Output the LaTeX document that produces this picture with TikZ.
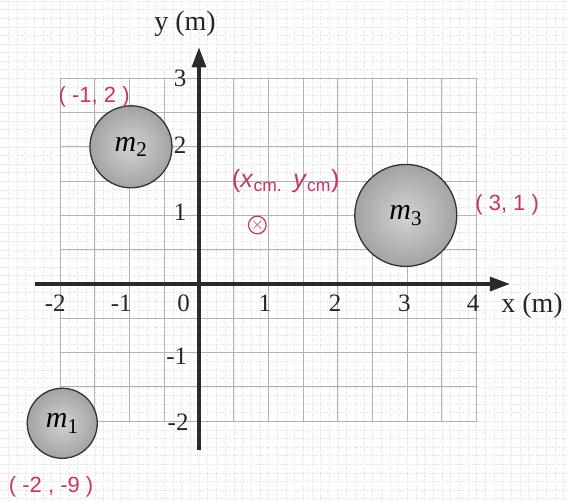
\documentclass[tikz,border=0pt]{standalone}
\usepackage{fontspec}
\setmainfont{Liberation Serif}
\newfontfamily\handfont{Liberation Sans}
\usetikzlibrary{arrows.meta}
\definecolor{ink}{HTML}{C8336A}
\definecolor{axisc}{HTML}{2A2A2A}
\tikzset{
  gridline/.style={draw=gray!60, line width=1.1pt},
  paper/.style={draw=gray!25, line width=0.35pt, dotted},
  axisline/.style={draw=axisc, line width=3.2pt, -{Triangle[length=20pt,width=14pt]}},
  ticklab/.style={font=\fontsize{25}{25}\selectfont, inner sep=0pt, text=black!85},
  axislab/.style={font=\fontsize{28}{28}\selectfont, inner sep=0pt, text=black!85},
  mass/.style={circle, draw=black!80, line width=1.3pt, shading=radial,
    inner color=gray!35, outer color=gray!72, inner sep=0pt,
    font=\fontsize{30}{30}\selectfont},
  hand/.style={text=ink, font=\handfont\fontsize{22}{22}\selectfont, inner sep=0pt},
  comark/.style={circle, draw=ink, line width=1.2pt, minimum size=16pt, inner sep=0pt,
    text=ink, font=\fontsize{17}{17}\selectfont}
}
\begin{document}
\begin{tikzpicture}[x=69.4pt, y=68.6pt]
\useasboundingbox (-2.867,-3.149) rectangle (5.317,4.140);
\fill[white] (-2.867,-3.149) rectangle (5.317,4.140);
% paper texture
\draw[paper, step=0.125] (-2.867,-3.149) grid (5.317,4.140);
% grid
\draw[gridline, step=0.5] (-2,-2) grid (4,3);
% axes
\coordinate (xs) at (-2.36,0);
\coordinate (xe) at (4.48,0);
\coordinate (ys) at (0,-2.42);
\coordinate (ye) at (0,3.45);
\draw[axisline] (xs) -- (xe);
\draw[axisline] (ys) -- (ye);
% axis labels
\node[axislab] (ylab) at (-0.20,3.80) {y (m)};
\node[axislab] (xlab) at (4.80,-0.31) {x (m)};
% x tick labels
\node[ticklab] (xm2) at (-2.07,-0.277) {-2};
\node[ticklab] (xm1) at (-1.12,-0.277) {-1};
\node[ticklab] (x0) at (-0.22,-0.277) {0};
\node[ticklab] (x1) at (0.95,-0.277) {1};
\node[ticklab] (x2) at (1.96,-0.277) {2};
\node[ticklab] (x3) at (2.96,-0.277) {3};
\node[ticklab] (x4) at (3.95,-0.277) {4};
% y tick labels
\node[ticklab] (y3) at (-0.27,3.0) {3};
\node[ticklab] (y2) at (-0.27,2.03) {2};
\node[ticklab] (y1) at (-0.27,1.05) {1};
\node[ticklab] (ym1) at (-0.32,-1.06) {-1};
\node[ticklab] (ym2) at (-0.30,-2.01) {-2};
% masses
\node[mass, minimum size=70pt] (m1) at (-1.97,-2.03) {\textit{m}\textsubscript{1}};
\node[mass, minimum size=82pt] (m2) at (-0.98,2.0) {\textit{m}\textsubscript{2}};
\node[mass, minimum size=102pt] (m3) at (2.98,1.0) {\textit{m}\textsubscript{3}};
% handwritten annotations
\node[hand] (c2) at (-1.51,2.73) {( -1, 2 )};
\node[hand, font=\handfont\fontsize{25}{25}\selectfont] (cm) at (1.25,1.50) {(\textit{x}\textsubscript{cm.}\, \textit{y}\textsubscript{cm})};
\node[comark] (com) at (0.84,0.86) {$\times$};
\node[hand] (c3) at (4.44,1.15) {( 3, 1 )};
\node[hand] (c1) at (-2.13,-2.96) {( -2 , -9 )};
\end{tikzpicture}
\end{document}
